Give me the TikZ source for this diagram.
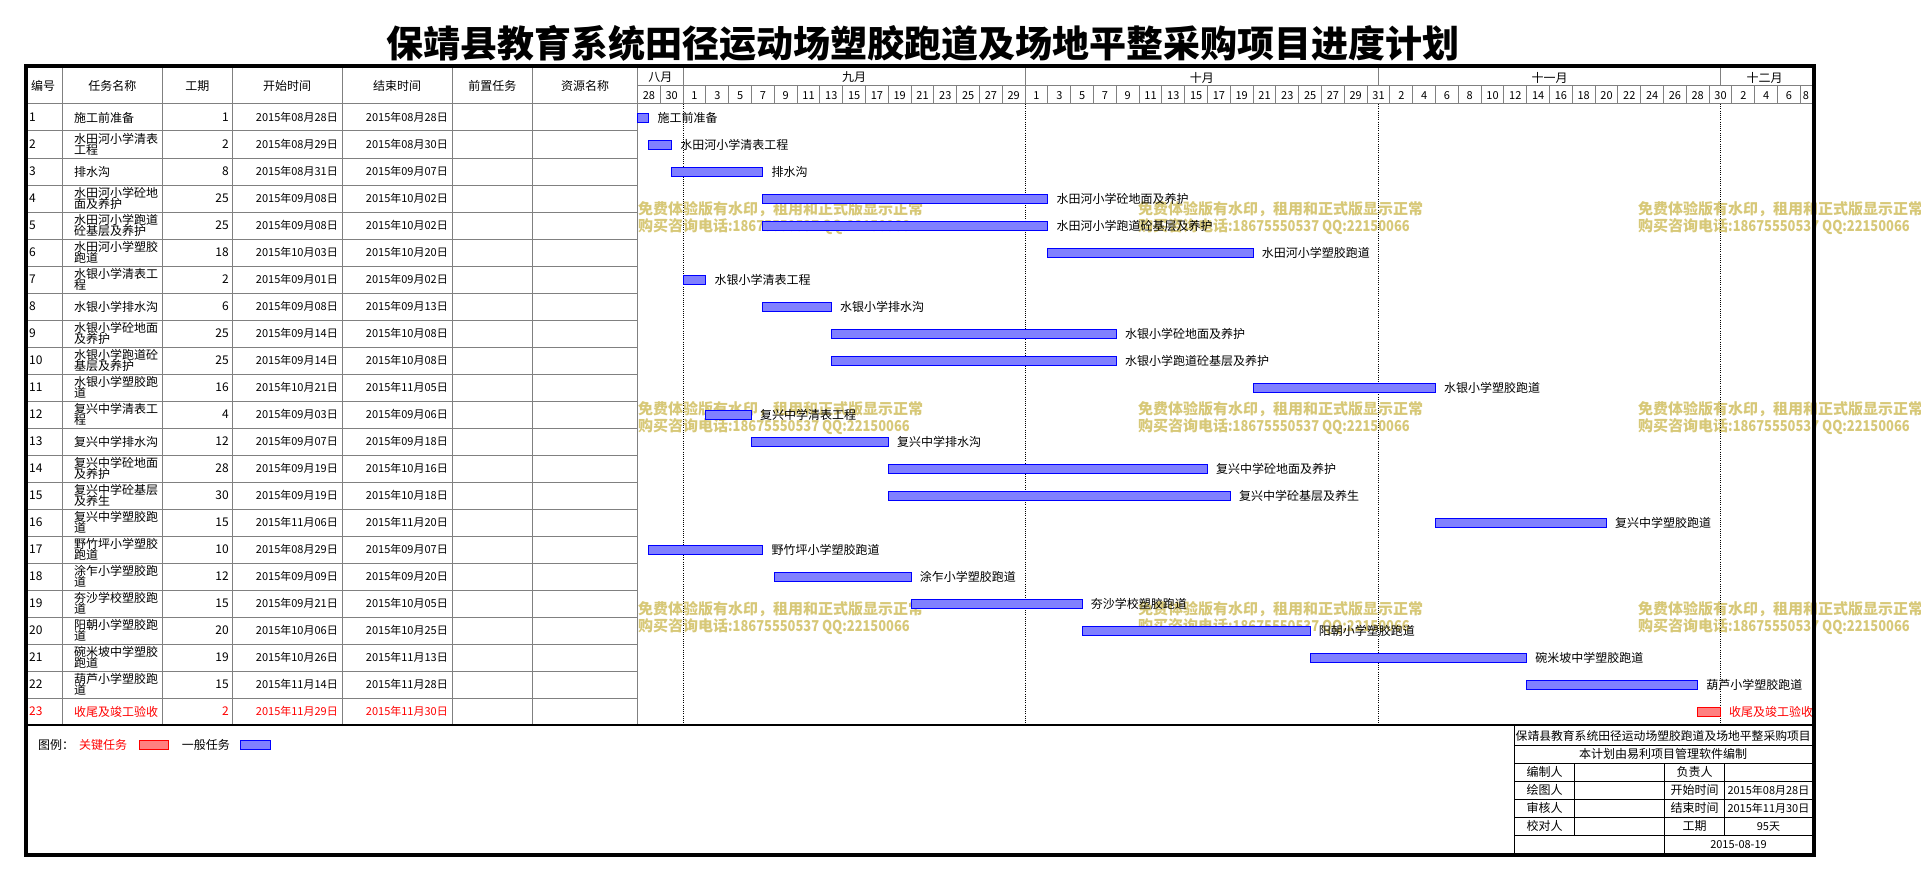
\documentclass[tikz,border=0pt]{standalone}
\usepackage{fontspec}
\newfontfamily\cjk{Noto Sans CJK SC}
\definecolor{barblue}{RGB}{128,128,255}
\definecolor{barred}{RGB}{255,128,128}
\definecolor{wmk}{RGB}{215,200,120}
\definecolor{gridgray}{RGB}{128,128,128}
\begin{document}
\begin{tikzpicture}[x=1pt,y=-1pt,
  gridline/.style={draw=gridgray, line width=1pt},
  txt/.style={font=\cjk\fontsize{12}{11.4}\selectfont, inner sep=0pt, align=left},
  datetxt/.style={font=\cjk\fontsize{11}{12}\selectfont, inner sep=0pt},
  daytxt/.style={font=\cjk\fontsize{11}{12}\selectfont, inner sep=0pt},
  wm/.style={font=\cjk\bfseries\fontsize{15}{16}\selectfont, text=wmk, inner sep=0pt, anchor=west},
  blk/.style={draw=black, line width=1.2pt},
  monthline/.style={draw=black, line width=1pt, dash pattern=on 1pt off 1.2pt}]
\useasboundingbox (0,0) rectangle (1921,880);
% title
\node[font=\cjk\bfseries\fontsize{37}{40}\selectfont, inner sep=0pt] (title) at (923,43) {保靖县教育系统田径运动场塑胶跑道及场地平整采购项目进度计划};
% watermarks
\foreach \wx [count=\i] in {638,1138,1638} {
  \foreach \wy [count=\j] in {209.5,409.5,609.5} {
    \node[wm] (wma\i\j) at (\wx,\wy) {免费体验版有水印，租用和正式版显示正常};
    \node[wm] (wmb\i\j) at (\wx,\wy+17) {购买咨询电话\scalebox{0.86}[1]{:18675550537 QQ:22150066}};
  }
}
% table grid
\foreach \x in {62.4,162.4,232.2,342,452.2,532.6,637.5} \draw[gridline] (\x,68) -- (\x,725);
\foreach \k in {1,...,22} \draw[gridline] (24,104+27*\k) -- (637.5,104+27*\k);
\draw[gridline] (24,104) -- (1812,104);
\draw[gridline] (637.5,86) -- (1812,86);
% headers
\foreach \hx/\htxt [count=\i] in {43.2/编号,112.4/任务名称,197.3/工期,287.1/开始时间,397.1/结束时间,492.4/前置任务,585/资源名称}
  \node[txt] (h\i) at (\hx,86) {\htxt};
% months
\foreach \mx in {683.1,1025.1,1378.5,1720.5} \draw[gridline] (\mx,68) -- (\mx,86);
\foreach \mx/\mtxt [count=\i] in {660.3/八月,854.1/九月,1201.8/十月,1549.5/十一月,1764.5/十二月}
  \node[txt] (m\i) at (\mx,77.5) {\mtxt};
% day cells
\foreach \k in {1,...,51} \draw[gridline] (637.5+22.8*\k,86) -- (637.5+22.8*\k,104);
\foreach \lab [count=\k from 0] in {28,30,1,3,5,7,9,11,13,15,17,19,21,23,25,27,29,1,3,5,7,9,11,13,15,17,19,21,23,25,27,29,31,2,4,6,8,10,12,14,16,18,20,22,24,26,28,30,2,4,6}
  \node[daytxt] (d\k) at (637.5+22.8*\k+11.4,95.5) {\lab};
\node[daytxt] (d51) at (1806,95.5) {8};
% month separators in chart
\foreach \mx in {683.1,1025.1,1378.5,1720.5} \draw[monthline] (\mx,104) -- (\mx,725);
% tasks
\foreach \n/\nm/\lb/\du/\sd/\ed/\ts/\te/\cl/\fcol/\dcol in {
1/{施工前准备}/施工前准备/1/08月28日/08月28日/0/1/black/barblue/blue,
2/{水田河小学清表\\工程}/水田河小学清表工程/2/08月29日/08月30日/1/3/black/barblue/blue,
3/{排水沟}/排水沟/8/08月31日/09月07日/3/11/black/barblue/blue,
4/{水田河小学砼地\\面及养护}/水田河小学砼地面及养护/25/09月08日/10月02日/11/36/black/barblue/blue,
5/{水田河小学跑道\\砼基层及养护}/水田河小学跑道砼基层及养护/25/09月08日/10月02日/11/36/black/barblue/blue,
6/{水田河小学塑胶\\跑道}/水田河小学塑胶跑道/18/10月03日/10月20日/36/54/black/barblue/blue,
7/{水银小学清表工\\程}/水银小学清表工程/2/09月01日/09月02日/4/6/black/barblue/blue,
8/{水银小学排水沟}/水银小学排水沟/6/09月08日/09月13日/11/17/black/barblue/blue,
9/{水银小学砼地面\\及养护}/水银小学砼地面及养护/25/09月14日/10月08日/17/42/black/barblue/blue,
10/{水银小学跑道砼\\基层及养护}/水银小学跑道砼基层及养护/25/09月14日/10月08日/17/42/black/barblue/blue,
11/{水银小学塑胶跑\\道}/水银小学塑胶跑道/16/10月21日/11月05日/54/70/black/barblue/blue,
12/{复兴中学清表工\\程}/复兴中学清表工程/4/09月03日/09月06日/6/10/black/barblue/blue,
13/{复兴中学排水沟}/复兴中学排水沟/12/09月07日/09月18日/10/22/black/barblue/blue,
14/{复兴中学砼地面\\及养护}/复兴中学砼地面及养护/28/09月19日/10月16日/22/50/black/barblue/blue,
15/{复兴中学砼基层\\及养生}/复兴中学砼基层及养生/30/09月19日/10月18日/22/52/black/barblue/blue,
16/{复兴中学塑胶跑\\道}/复兴中学塑胶跑道/15/11月06日/11月20日/70/85/black/barblue/blue,
17/{野竹坪小学塑胶\\跑道}/野竹坪小学塑胶跑道/10/08月29日/09月07日/1/11/black/barblue/blue,
18/{涂乍小学塑胶跑\\道}/涂乍小学塑胶跑道/12/09月09日/09月20日/12/24/black/barblue/blue,
19/{夯沙学校塑胶跑\\道}/夯沙学校塑胶跑道/15/09月21日/10月05日/24/39/black/barblue/blue,
20/{阳朝小学塑胶跑\\道}/阳朝小学塑胶跑道/20/10月06日/10月25日/39/59/black/barblue/blue,
21/{碗米坡中学塑胶\\跑道}/碗米坡中学塑胶跑道/19/10月26日/11月13日/59/78/black/barblue/blue,
22/{葫芦小学塑胶跑\\道}/葫芦小学塑胶跑道/15/11月14日/11月28日/78/93/black/barblue/blue,
23/{收尾及竣工验收}/收尾及竣工验收/2/11月29日/11月30日/93/95/red/barred/red}
{
  \node[txt, anchor=west, text=\cl] (no\n) at (29,90.5+27*\n) {\n};
  \node[txt, anchor=west, text=\cl] (nm\n) at (74,90.5+27*\n) {\nm};
  \node[txt, anchor=east, text=\cl] (du\n) at (229,90.5+27*\n) {\du};
  \node[datetxt, anchor=east, text=\cl] (sd\n) at (338,90.5+27*\n) {2015年\sd};
  \node[datetxt, anchor=east, text=\cl] (ed\n) at (448,90.5+27*\n) {2015年\ed};
  \draw[fill=\fcol, draw=\dcol, line width=1pt] (637.5+11.4*\ts,86.5+27*\n) rectangle (637.5+11.4*\te,95.5+27*\n);
  \node[txt, anchor=west, text=\cl] (bl\n) at (637.5+11.4*\te+8.5,91+27*\n) {\lb};
}
% bottom line
\draw[draw=black, line width=1.5pt] (24,725) -- (1812,725);
% legend
\node[txt, anchor=west] (lg0) at (38,744.8) {图例：};
\node[txt, anchor=west, text=red] (lg1) at (79,744.8) {关键任务};
\draw[fill=barred, draw=red, line width=1pt] (139,740.3) rectangle (168.6,749.3);
\node[txt, anchor=west] (lg2) at (181.6,744.8) {一般任务};
\draw[fill=barblue, draw=blue, line width=1pt] (240.8,740.3) rectangle (270.6,749.3);
% title block
\draw[blk] (1514.3,725) -- (1514.3,855);
\foreach \yy in {745.3,763.3,781.3,799.3,817.3,835.3} \draw[blk] (1514.3,\yy) -- (1812,\yy);
\draw[blk] (1574.7,763.3) -- (1574.7,835.3);
\draw[blk] (1664.7,763.3) -- (1664.7,855);
\draw[blk] (1724.7,763.3) -- (1724.7,835.3);
\node[font=\cjk\fontsize{11.8}{12}\selectfont, inner sep=0pt] (tb1) at (1663.2,735.5) {保靖县教育系统田径运动场塑胶跑道及场地平整采购项目};
\node[txt] (tb2) at (1663.2,754.3) {本计划由易利项目管理软件编制};
\foreach \ya/\la/\lcc/\ldd [count=\i] in {772.3/编制人/负责人/{},790.3/绘图人/开始时间/2015年08月28日,808.3/审核人/结束时间/2015年11月30日,826.3/校对人/工期/95天} {
  \node[txt] (tba\i) at (1544.5,\ya) {\la};
  \node[txt] (tbc\i) at (1694.7,\ya) {\lcc};
  \node[datetxt] (tbd\i) at (1768.4,\ya) {\ldd};
}
\node[datetxt] (tbdate) at (1738.5,844.3) {2015-08-19};
% outer frame
\draw[line width=4.2pt] (25.7,66.2) rectangle (1814,855.3);
\end{tikzpicture}
\end{document}
